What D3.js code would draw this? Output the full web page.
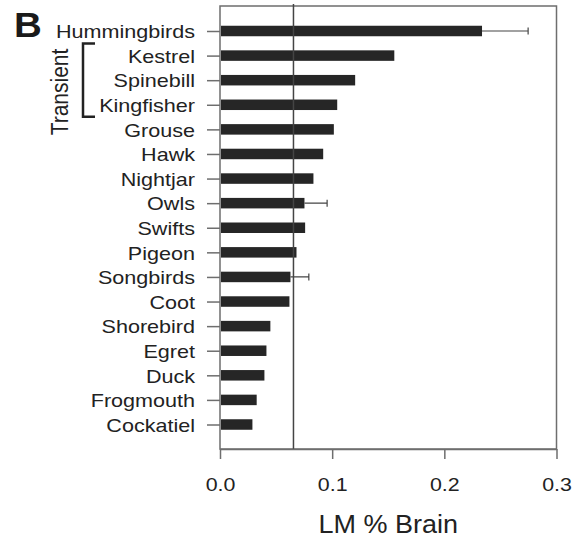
<!DOCTYPE html>
<html>
<head>
<meta charset="utf-8">
<script src="https://cdn.jsdelivr.net/npm/d3@7"></script>
<style>
  body { margin: 0; background: #fff; }
  svg { display: block; font-family: "Liberation Sans", Arial, sans-serif; }
</style>
</head>
<body>
<svg id="canvas" width="586" height="545"></svg>
<script>
// bird groups, top to bottom
let birds = ['Hummingbirds', 'Kestrel', 'Spinebill', 'Kingfisher', 'Grouse', 'Hawk', 'Nightjar',
             'Owls', 'Swifts', 'Pigeon', 'Songbirds', 'Coot', 'Shorebird', 'Egret', 'Duck',
             'Frogmouth', 'Cockatiel']
// LM size as % of brain
let lmValues = [0.2336, 0.1554, 0.1205, 0.1045, 0.1015, 0.092, 0.0833,
                0.0753, 0.0759, 0.0682, 0.0628, 0.0619, 0.0449, 0.0414, 0.0396,
                0.0327, 0.0289]
// upper end of error bar (null = none)
let errTop = [0.2747, null, null, null, null, null, null,
              0.0955, null, null, 0.0792, null, null, null, null,
              null, null]
let xTicks = [0, 0.1, 0.2, 0.3]
let refValue = 0.0655
let transientGroup = ['Kestrel', 'Spinebill', 'Kingfisher']

let canvas = d3.select('#canvas')

let plotLeft = 220, plotRight = 556.5, plotTop = 6, plotBottom = 449

let xScale = d3.scaleLinear().domain([0, 0.3]).range([plotLeft, plotRight])
let yScale = d3.scalePoint().domain(birds).range([31, 424.5])

let barH = 10.5
let ink = '#262626'
let axisGrey = '#6e6e6e'

// frame
canvas.append('rect')
    .attr('x', plotLeft).attr('y', plotTop)
    .attr('width', plotRight - plotLeft).attr('height', plotBottom - plotTop)
    .attr('fill', 'none')
    .attr('stroke', axisGrey)
    .attr('stroke-width', 1.5)

// bars
canvas.selectAll('.bar')
    .data(birds)
    .enter()
    .append('rect')
    .attr('class', 'bar')
    .attr('x', xScale(0) + 1)
    .attr('y', (d) => yScale(d) - barH / 2)
    .attr('width', (d, i) => xScale(lmValues[i]) - xScale(0) - 1)
    .attr('height', barH)
    .attr('fill', ink)

// error bars
let errs = birds.map((d, i) => ({ name: d, v: lmValues[i], e: errTop[i] })).filter((d) => d.e !== null)

canvas.selectAll('.err')
    .data(errs)
    .enter()
    .append('path')
    .attr('class', 'err')
    .attr('d', (d) => {
        let y = yScale(d.name)
        return 'M' + xScale(d.v) + ',' + y + 'H' + xScale(d.e) +
               'M' + xScale(d.e) + ',' + (y - 3.5) + 'V' + (y + 3.5)
    })
    .attr('stroke', '#444')
    .attr('stroke-width', 1.2)
    .attr('fill', 'none')

// reference line
canvas.append('line')
    .attr('x1', xScale(refValue)).attr('x2', xScale(refValue))
    .attr('y1', 4).attr('y2', plotBottom)
    .attr('stroke', '#444')
    .attr('stroke-width', 1.5)

// y axis
let yAxis = canvas.append('g')
    .attr('transform', 'translate(' + plotLeft + ',0)')
    .call(d3.axisLeft(yScale).tickSize(13).tickPadding(0))

yAxis.select('.domain').remove()
yAxis.selectAll('line').attr('stroke', axisGrey).attr('stroke-width', 1.5)
yAxis.selectAll('text')
    .attr('x', 0)
    .attr('dy', '0.36em')
    .attr('transform', 'translate(-25,0) scale(1.16,1)')
    .attr('font-size', 18.6)
    .attr('font-family', '"Liberation Sans", Arial, sans-serif')
    .attr('fill', '#222')

// x axis
let xAxis = canvas.append('g')
    .attr('transform', 'translate(0,' + plotBottom + ')')
    .call(d3.axisBottom(xScale).tickValues(xTicks).tickFormat(d3.format('.1f')).tickSize(10).tickSizeOuter(0))

xAxis.select('.domain').attr('stroke', axisGrey).attr('stroke-width', 1.5)
xAxis.selectAll('line').attr('stroke', axisGrey).attr('stroke-width', 1.5)
xAxis.selectAll('text')
    .attr('y', 0)
    .attr('dy', 0)
    .attr('transform', 'translate(0,41.8) scale(1.15,1)')
    .attr('font-size', 18.6)
    .attr('font-family', '"Liberation Sans", Arial, sans-serif')
    .attr('fill', '#222')

// axis title
canvas.append('text')
    .attr('transform', 'translate(' + ((plotLeft + plotRight) / 2) + ',533.3) scale(1.08,1)')
    .attr('text-anchor', 'middle')
    .attr('font-size', 25)
    .attr('fill', '#222')
    .text('LM % Brain')

// panel letter
canvas.append('text')
    .attr('transform', 'translate(14,36.5) scale(1.1,1)')
    .attr('font-size', 35)
    .attr('font-weight', 'bold')
    .attr('fill', '#1a1a1a')
    .text('B')

// transient bracket
let bTop = yScale(transientGroup[0]) - 12
let bBot = yScale(transientGroup[transientGroup.length - 1]) + 12
canvas.append('path')
    .attr('d', 'M95,' + bTop + 'H83V' + bBot + 'H95')
    .attr('fill', 'none')
    .attr('stroke', '#222')
    .attr('stroke-width', 2.5)

canvas.append('text')
    .attr('transform', 'translate(68,92) rotate(-90) scale(1,1.15)')
    .attr('text-anchor', 'middle')
    .attr('font-size', 21)
    .attr('fill', '#222')
    .text('Transient')
</script>
</body>
</html>
